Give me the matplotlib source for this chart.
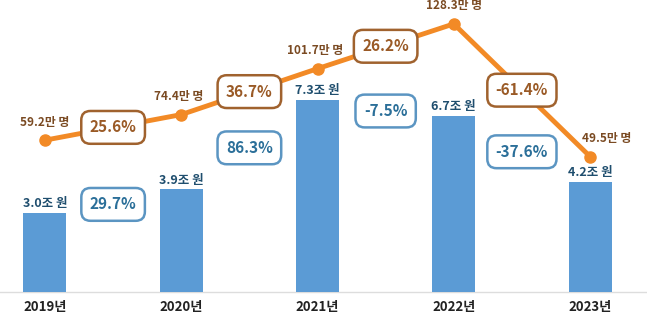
import matplotlib.pyplot as plt

plt.rcParams['font.family'] = ['Noto Sans CJK KR', 'DejaVu Sans']

# data
years = ['2019년', '2020년', '2021년', '2022년', '2023년']
amount = [3.0, 3.9, 7.3, 6.7, 4.2]            # 조 원
amount_change = ['29.7%', '86.3%', '-7.5%', '-37.6%']
people = [59.2, 74.4, 101.7, 128.3, 49.5]     # 만 명
people_change = ['25.6%', '36.7%', '26.2%', '-61.4%']

bar_color = '#5b9bd5'
line_color = '#f28a26'
brown = '#9a5a26'
navy = '#1f4e6e'
teal = '#2b6f99'

fig = plt.figure(figsize=(6.47, 3.30), dpi=100)
ax = fig.add_axes([0, 0, 1, 1])
x = list(range(len(years)))

ax.bar(x, amount, width=0.316, color=bar_color, zorder=2)
ax.axhline(0, color='#dddddd', lw=1, zorder=1)
ax.set_xlim(-0.33, 4.418)
ax.set_ylim(-1.445, 11.10)
ax.axis('off')

for i, v in enumerate(amount):
    ax.annotate(f'{v:.1f}조 원', (i, v), xytext=(0, 2), textcoords='offset points',
                ha='center', va='bottom', fontsize=9, fontweight='bold', color=navy)
    ax.text(i, -0.57, years[i], ha='center', va='center', fontsize=9.5,
            fontweight='bold', color='#222222')

for i, t in enumerate(amount_change):
    y = (amount[i] + amount[i + 1]) / 2 - 0.12
    ax.text(i + 0.5, y, t, ha='center', va='center', fontsize=11, fontweight='bold',
            color=teal, zorder=4,
            bbox=dict(boxstyle='round,pad=0.55,rounding_size=0.6', fc='white',
                      ec='#5b95c2', lw=1.8))

# people line on a second scale
ax2 = ax.twinx()
ax2.set_position([0, 0, 1, 1])
ax2.set_ylim(-53.6, 142.5)
ax2.axis('off')
ax2.plot(x, people, color=line_color, lw=3.5, marker='o', markersize=8, zorder=3)

offsets = [(0, 13), (-2, 13), (-2, 13), (0, 13), (12, 13)]
for i, v in enumerate(people):
    ax2.annotate(f'{v}만 명', (i, v), xytext=offsets[i], textcoords='offset points',
                 ha='center', va='center', fontsize=8.5, fontweight='bold', color='#7a4a22')

for i, t in enumerate(people_change):
    y = (people[i] + people[i + 1]) / 2
    ax2.text(i + 0.5, y, t, ha='center', va='center', fontsize=11, fontweight='bold',
             color=brown, zorder=4,
             bbox=dict(boxstyle='round,pad=0.55,rounding_size=0.6', fc='white',
                       ec='#a0622e', lw=1.8))

fig.savefig('out.png', dpi=100)
